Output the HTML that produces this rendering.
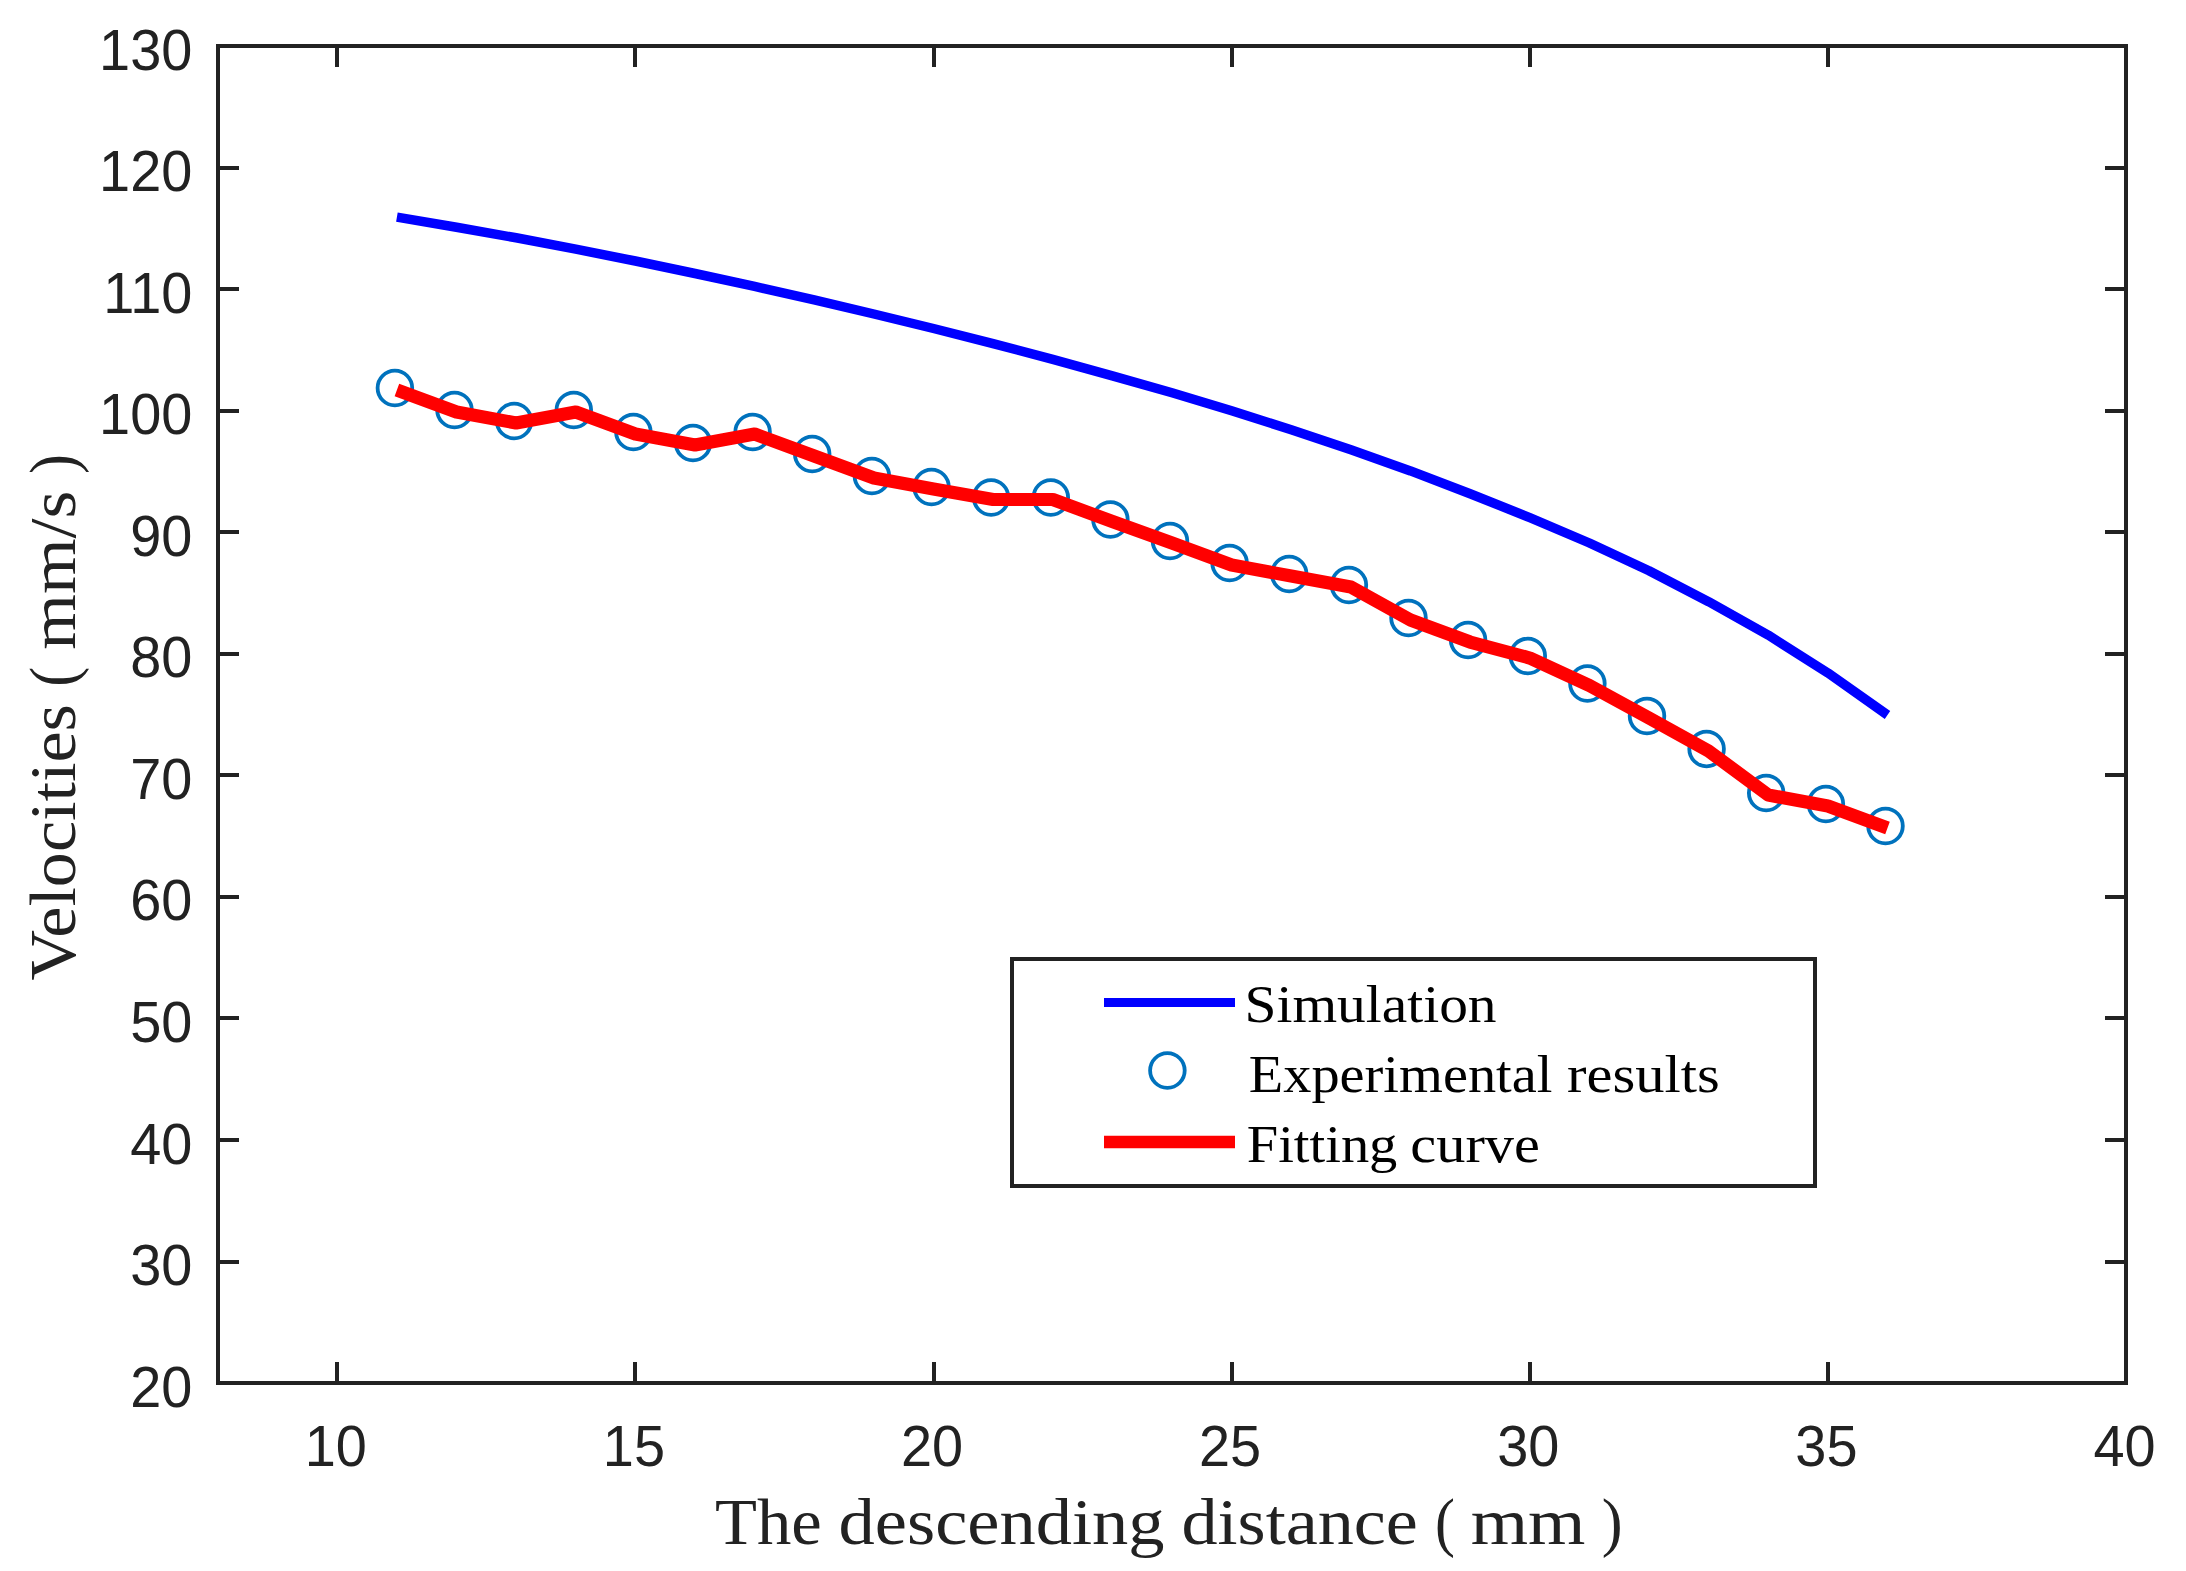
<!DOCTYPE html>
<html lang="en"><head><meta charset="utf-8"><title>Velocities vs descending distance</title>
<style>html,body{margin:0;padding:0;background:#fff;overflow:hidden;}svg{display:block;}.tk{font-family:"Liberation Sans",sans-serif;font-size:57px;fill:#222222;}.lb{font-family:"Liberation Serif",serif;fill:#222222;}.lg{font-family:"Liberation Serif",serif;fill:#000;}</style></head><body>
<svg width="2186" height="1571" viewBox="0 0 2186 1571">
<rect x="0" y="0" width="2186" height="1571" fill="#fff"/>
<polyline points="396.9,217.1 456.5,227.2 516.1,237.8 575.8,249.1 635.4,261.0 695.0,273.5 754.6,286.4 814.2,299.9 873.9,314.0 933.5,328.5 993.1,343.7 1052.8,359.3 1112.4,375.8 1172.0,392.8 1231.6,410.8 1291.2,429.7 1350.9,449.7 1410.5,470.9 1470.1,493.7 1529.8,517.6 1589.4,543.0 1649.0,570.7 1708.6,601.7 1768.2,635.1 1827.9,672.9 1887.5,715.0" fill="none" stroke="#0000ff" stroke-width="9.5" stroke-linejoin="round"/>
<circle cx="394.9" cy="388.0" r="17.3" fill="none" stroke="#0072bd" stroke-width="3.8"/>
<circle cx="454.5" cy="410.0" r="17.3" fill="none" stroke="#0072bd" stroke-width="3.8"/>
<circle cx="514.1" cy="421.0" r="17.3" fill="none" stroke="#0072bd" stroke-width="3.8"/>
<circle cx="573.8" cy="410.0" r="17.3" fill="none" stroke="#0072bd" stroke-width="3.8"/>
<circle cx="633.4" cy="432.0" r="17.3" fill="none" stroke="#0072bd" stroke-width="3.8"/>
<circle cx="693.0" cy="443.0" r="17.3" fill="none" stroke="#0072bd" stroke-width="3.8"/>
<circle cx="752.6" cy="432.0" r="17.3" fill="none" stroke="#0072bd" stroke-width="3.8"/>
<circle cx="812.2" cy="454.0" r="17.3" fill="none" stroke="#0072bd" stroke-width="3.8"/>
<circle cx="871.9" cy="476.0" r="17.3" fill="none" stroke="#0072bd" stroke-width="3.8"/>
<circle cx="931.5" cy="487.0" r="17.3" fill="none" stroke="#0072bd" stroke-width="3.8"/>
<circle cx="991.1" cy="497.5" r="17.3" fill="none" stroke="#0072bd" stroke-width="3.8"/>
<circle cx="1050.8" cy="497.5" r="17.3" fill="none" stroke="#0072bd" stroke-width="3.8"/>
<circle cx="1110.4" cy="519.5" r="17.3" fill="none" stroke="#0072bd" stroke-width="3.8"/>
<circle cx="1170.0" cy="541.0" r="17.3" fill="none" stroke="#0072bd" stroke-width="3.8"/>
<circle cx="1229.6" cy="563.0" r="17.3" fill="none" stroke="#0072bd" stroke-width="3.8"/>
<circle cx="1289.2" cy="574.0" r="17.3" fill="none" stroke="#0072bd" stroke-width="3.8"/>
<circle cx="1348.9" cy="585.0" r="17.3" fill="none" stroke="#0072bd" stroke-width="3.8"/>
<circle cx="1408.5" cy="618.0" r="17.3" fill="none" stroke="#0072bd" stroke-width="3.8"/>
<circle cx="1468.1" cy="640.0" r="17.3" fill="none" stroke="#0072bd" stroke-width="3.8"/>
<circle cx="1527.8" cy="656.0" r="17.3" fill="none" stroke="#0072bd" stroke-width="3.8"/>
<circle cx="1587.4" cy="683.5" r="17.3" fill="none" stroke="#0072bd" stroke-width="3.8"/>
<circle cx="1647.0" cy="716.0" r="17.3" fill="none" stroke="#0072bd" stroke-width="3.8"/>
<circle cx="1706.6" cy="749.0" r="17.3" fill="none" stroke="#0072bd" stroke-width="3.8"/>
<circle cx="1766.2" cy="793.0" r="17.3" fill="none" stroke="#0072bd" stroke-width="3.8"/>
<circle cx="1825.9" cy="804.0" r="17.3" fill="none" stroke="#0072bd" stroke-width="3.8"/>
<circle cx="1885.5" cy="826.0" r="17.3" fill="none" stroke="#0072bd" stroke-width="3.8"/>
<polyline points="396.9,390.0 456.5,412.0 516.1,423.0 575.8,412.0 635.4,434.0 695.0,445.0 754.6,434.0 814.2,456.0 873.9,478.0 933.5,489.0 993.1,499.5 1052.8,499.5 1112.4,521.5 1172.0,543.0 1231.6,565.0 1291.2,576.0 1350.9,587.0 1410.5,620.0 1470.1,642.0 1529.8,658.0 1589.4,685.5 1649.0,718.0 1708.6,751.0 1768.2,795.0 1827.9,806.0 1887.5,828.0" fill="none" stroke="#ff0000" stroke-width="13.2" stroke-linejoin="round"/>
<rect x="218.0" y="46.0" width="1908.0" height="1337.0" fill="none" stroke="#222222" stroke-width="4"/>
<path d="M337.00,1383.0V1362.0M337.00,46.0V67.0M635.00,1383.0V1362.0M635.00,46.0V67.0M934.00,1383.0V1362.0M934.00,46.0V67.0M1232.00,1383.0V1362.0M1232.00,46.0V67.0M1530.00,1383.0V1362.0M1530.00,46.0V67.0M1828.00,1383.0V1362.0M1828.00,46.0V67.0M2126.00,1383.0V1362.0M2126.00,46.0V67.0M218.0,1383.00H239.0M2126.0,1383.00H2105.0M218.0,1262.00H239.0M2126.0,1262.00H2105.0M218.0,1140.00H239.0M2126.0,1140.00H2105.0M218.0,1018.00H239.0M2126.0,1018.00H2105.0M218.0,897.00H239.0M2126.0,897.00H2105.0M218.0,775.00H239.0M2126.0,775.00H2105.0M218.0,654.00H239.0M2126.0,654.00H2105.0M218.0,532.00H239.0M2126.0,532.00H2105.0M218.0,411.00H239.0M2126.0,411.00H2105.0M218.0,289.00H239.0M2126.0,289.00H2105.0M218.0,168.00H239.0M2126.0,168.00H2105.0M218.0,46.00H239.0M2126.0,46.00H2105.0" fill="none" stroke="#222222" stroke-width="4"/>
<text class="tk" transform="translate(335.8,1466) scale(0.98,1)" x="0" y="0" text-anchor="middle">10</text>
<text class="tk" transform="translate(633.9,1466) scale(0.98,1)" x="0" y="0" text-anchor="middle">15</text>
<text class="tk" transform="translate(932.0,1466) scale(0.98,1)" x="0" y="0" text-anchor="middle">20</text>
<text class="tk" transform="translate(1230.1,1466) scale(0.98,1)" x="0" y="0" text-anchor="middle">25</text>
<text class="tk" transform="translate(1528.2,1466) scale(0.98,1)" x="0" y="0" text-anchor="middle">30</text>
<text class="tk" transform="translate(1826.4,1466) scale(0.98,1)" x="0" y="0" text-anchor="middle">35</text>
<text class="tk" transform="translate(2124.5,1466) scale(0.98,1)" x="0" y="0" text-anchor="middle">40</text>
<text class="tk" transform="translate(192.3,1406.6) scale(0.98,1)" x="0" y="0" text-anchor="end">20</text>
<text class="tk" transform="translate(192.3,1285.1) scale(0.98,1)" x="0" y="0" text-anchor="end">30</text>
<text class="tk" transform="translate(192.3,1163.5) scale(0.98,1)" x="0" y="0" text-anchor="end">40</text>
<text class="tk" transform="translate(192.3,1042.0) scale(0.98,1)" x="0" y="0" text-anchor="end">50</text>
<text class="tk" transform="translate(192.3,920.4) scale(0.98,1)" x="0" y="0" text-anchor="end">60</text>
<text class="tk" transform="translate(192.3,798.9) scale(0.98,1)" x="0" y="0" text-anchor="end">70</text>
<text class="tk" transform="translate(192.3,677.3) scale(0.98,1)" x="0" y="0" text-anchor="end">80</text>
<text class="tk" transform="translate(192.3,555.8) scale(0.98,1)" x="0" y="0" text-anchor="end">90</text>
<text class="tk" transform="translate(192.3,434.2) scale(0.98,1)" x="0" y="0" text-anchor="end">100</text>
<text class="tk" transform="translate(192.3,312.7) scale(0.98,1)" x="0" y="0" text-anchor="end">110</text>
<text class="tk" transform="translate(192.3,191.1) scale(0.98,1)" x="0" y="0" text-anchor="end">120</text>
<text class="tk" transform="translate(192.3,69.6) scale(0.98,1)" x="0" y="0" text-anchor="end">130</text>
<text class="lb" font-size="66.5"><tspan x="715.07" y="1544" textLength="106.70" lengthAdjust="spacingAndGlyphs">The</tspan> <tspan x="838.62" y="1544" textLength="325.94" lengthAdjust="spacingAndGlyphs">descending</tspan> <tspan x="1181.53" y="1544" textLength="236.32" lengthAdjust="spacingAndGlyphs">distance</tspan> <tspan x="1435.10" y="1544" textLength="19.94" lengthAdjust="spacingAndGlyphs">(</tspan> <tspan x="1470.69" y="1544" textLength="114.71" lengthAdjust="spacingAndGlyphs">mm</tspan> <tspan x="1601.72" y="1544" textLength="20.85" lengthAdjust="spacingAndGlyphs">)</tspan></text>
<g transform="translate(75.2,979.5) rotate(-90)">
<text class="lb" font-size="66.5"><tspan x="-1.05" y="0" textLength="276.31" lengthAdjust="spacingAndGlyphs">Velocities</tspan> <tspan x="293.04" y="0" textLength="19.68" lengthAdjust="spacingAndGlyphs">(</tspan> <tspan x="329.82" y="0" textLength="159.03" lengthAdjust="spacingAndGlyphs">mm/s</tspan> <tspan x="505.61" y="0" textLength="19.81" lengthAdjust="spacingAndGlyphs">)</tspan></text>
</g>
<rect x="1012" y="959" width="803" height="227" fill="#fff" stroke="#222222" stroke-width="4"/>
<line x1="1104" y1="1002.5" x2="1235" y2="1002.5" stroke="#0000ff" stroke-width="9"/>
<circle cx="1167.4" cy="1070.5" r="17.3" fill="none" stroke="#0072bd" stroke-width="3.8"/>
<line x1="1104" y1="1142" x2="1235" y2="1142" stroke="#ff0000" stroke-width="12.5"/>
<text class="lg" font-size="53.5"><tspan x="1244.58" y="1021.8" textLength="252.01" lengthAdjust="spacingAndGlyphs">Simulation</tspan></text>
<text class="lg" font-size="53.5"><tspan x="1248.75" y="1092.1" textLength="303.72" lengthAdjust="spacingAndGlyphs">Experimental</tspan> <tspan x="1567.11" y="1092.1" textLength="152.74" lengthAdjust="spacingAndGlyphs">results</tspan></text>
<text class="lg" font-size="53.5"><tspan x="1246.74" y="1161.8" textLength="150.61" lengthAdjust="spacingAndGlyphs">Fitting</tspan> <tspan x="1410.32" y="1161.8" textLength="129.66" lengthAdjust="spacingAndGlyphs">curve</tspan></text>
</svg></body></html>
